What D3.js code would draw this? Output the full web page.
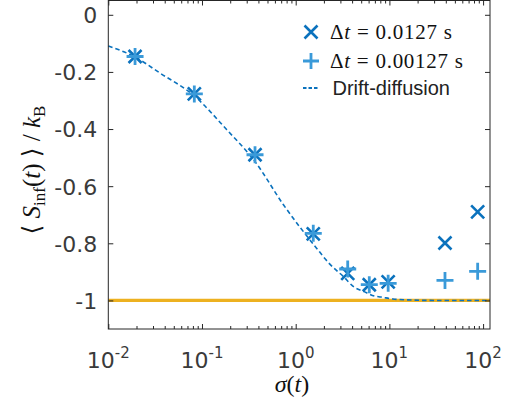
<!DOCTYPE html>
<html>
<head>
<meta charset="utf-8">
<script src="https://cdn.jsdelivr.net/npm/d3@7/dist/d3.min.js"></script>
<style>
  html, body { margin: 0; padding: 0; background: #fff; }
  svg { display: block; }
  .math { font-family: "Liberation Serif", "DejaVu Serif", serif; white-space: pre; }
</style>
</head>
<body>
<script>
// ---- data ----
const sigma = [0.0193, 0.0828, 0.368, 1.54, 3.59, 6.1, 9.7, 39.2, 87.5];
const dtLarge = [-0.146, -0.277, -0.49, -0.767, -0.905, -0.945, -0.935, -0.799, -0.69];   // Δt = 0.0127 s
const dtSmall = [-0.146, -0.277, -0.49, -0.765, -0.89, -0.945, -0.94, -0.93, -0.898];    // Δt = 0.00127 s
const ddSigma = [0.01, 0.0193, 0.0356, 0.082, 0.184, 0.37, 0.74, 1.67, 2.3, 3.22, 4.2, 5.27, 7.0, 8.1, 10.9, 15, 30, 118.5];
const ddValue = [-0.109, -0.148, -0.204, -0.283, -0.4025, -0.515, -0.665, -0.817, -0.872, -0.916, -0.953, -0.968, -0.985, -0.988, -0.995, -0.998, -1.0, -1.0];
const baseline = -1;
const xMajor = [0.01, 0.1, 1, 10, 100];
const xMajorExp = ["-2", "-1", "0", "1", "2"];
const yTicks = [0, -0.2, -0.4, -0.6, -0.8, -1];
const yTickLabels = ["0", "-0.2", "-0.4", "-0.6", "-0.8", "-1"];
const legendLabels = ["0.0127", "0.00127", "Drift-diffusion"];

// ---- layout ----
const W = 512, H = 411;
const L = 108.3, R = 490, T = 0.5, B = 329;
const colX = "#0b72bd", colP = "#3a9ad9", colDD = "#0b72bd", colBase = "#edb120";
const axisCol = "#262626", textCol = "#3a3a3a";

const svg = d3.select("body").append("svg").attr("width", W).attr("height", H);

const x = d3.scaleLog().domain([0.01, 118.5]).range([L, R]);
const y = d3.scaleLinear().domain([-1.1, 0.05]).range([B, T]);

// minor ticks
const xMinor = [];
for (let e = -2; e <= 2; e++) for (let m = 2; m <= 9; m++) { const v = m * Math.pow(10, e); if (v <= 118.5) xMinor.push(v); }

// ---- baseline and curve ----
svg.append("line")
  .attr("x1", x(0.01)).attr("x2", x(118.5))
  .attr("y1", y(baseline)).attr("y2", y(baseline))
  .attr("stroke", colBase).attr("stroke-width", 3.2);

const line = d3.line().x((d, i) => x(ddSigma[i])).y(d => y(d)).curve(d3.curveMonotoneX);
svg.append("path").attr("d", line(ddValue))
  .attr("fill", "none").attr("stroke", colDD).attr("stroke-width", 1.6)
  .attr("stroke-dasharray", "4.5,3");

// ---- markers ----
function crossPath(cx, cy, r) {
  return `M${cx - r},${cy - r}L${cx + r},${cy + r}M${cx - r},${cy + r}L${cx + r},${cy - r}`;
}
function plusPath(cx, cy, r) {
  return `M${cx - r},${cy}L${cx + r},${cy}M${cx},${cy - r}L${cx},${cy + r}`;
}
svg.append("g").selectAll("path").data(dtLarge).join("path")
  .attr("d", (d, i) => crossPath(x(sigma[i]), y(d), 6.5))
  .attr("stroke", colX).attr("stroke-width", 2.6).attr("fill", "none");
svg.append("g").selectAll("path").data(dtSmall).join("path")
  .attr("d", (d, i) => plusPath(x(sigma[i]), y(d), 8.5))
  .attr("stroke", colP).attr("stroke-width", 2.8).attr("fill", "none");

// ---- axes ----
const gAx = svg.append("g");
function styleAxis(g) {
  g.select(".domain").remove();
  g.selectAll(".tick line").attr("stroke", axisCol).attr("stroke-width", 1);
}
gAx.append("g").attr("transform", `translate(0,${B})`)
  .call(d3.axisBottom(x).tickValues(xMajor).tickSizeInner(-5).tickSizeOuter(0).tickFormat(""))
  .call(styleAxis);
gAx.append("g").attr("transform", `translate(0,${B})`)
  .call(d3.axisBottom(x).tickValues(xMinor).tickSizeInner(-3).tickSizeOuter(0).tickFormat(""))
  .call(styleAxis);
gAx.append("g").attr("transform", `translate(0,${T})`)
  .call(d3.axisTop(x).tickValues(xMajor).tickSizeInner(-5).tickSizeOuter(0).tickFormat(""))
  .call(styleAxis);
gAx.append("g").attr("transform", `translate(0,${T})`)
  .call(d3.axisTop(x).tickValues(xMinor).tickSizeInner(-3).tickSizeOuter(0).tickFormat(""))
  .call(styleAxis);
const yl = gAx.append("g").attr("transform", `translate(${L},0)`)
  .call(d3.axisLeft(y).tickValues(yTicks).tickSizeInner(-5).tickSizeOuter(0).tickPadding(11)
    .tickFormat((d, i) => yTickLabels[i]))
  .call(styleAxis);
yl.selectAll(".tick text")
  .attr("font-family", "'DejaVu Sans', sans-serif").attr("font-size", 22)
  .attr("fill", textCol).attr("dy", "0.36em");
gAx.append("g").attr("transform", `translate(${R},0)`)
  .call(d3.axisRight(y).tickValues(yTicks).tickSizeInner(-5).tickSizeOuter(0).tickFormat(""))
  .call(styleAxis);

// box
svg.append("rect").attr("x", L).attr("y", T).attr("width", R - L).attr("height", B - T)
  .attr("fill", "none").attr("stroke", axisCol).attr("stroke-width", 1);

// x tick labels with superscripts
const xl = svg.append("g").attr("font-family", "'DejaVu Sans', sans-serif").attr("fill", textCol);
xMajor.forEach((v, i) => {
  const t = xl.append("text").attr("x", x(v)).attr("y", 368).attr("text-anchor", "middle")
    .attr("font-size", 22);
  t.append("tspan").text("10");
  t.append("tspan").attr("font-size", 15).attr("dy", -10).text(xMajorExp[i]);
});

// x label
const xlab = svg.append("text").attr("class", "math").attr("x", 292).attr("y", 392)
  .attr("text-anchor", "middle").attr("font-size", 24).attr("fill", "#111");
xlab.append("tspan").attr("font-style", "italic").text("σ");
xlab.append("tspan").text("(");
xlab.append("tspan").attr("font-style", "italic").text("t");
xlab.append("tspan").text(")");

// y label
const ylab = svg.append("text").attr("class", "math")
  .attr("transform", "translate(40,170) rotate(-90)")
  .attr("text-anchor", "middle").attr("font-size", 25).attr("fill", "#111");
ylab.append("tspan").text("⟨ ");
ylab.append("tspan").attr("font-style", "italic").text("S");
ylab.append("tspan").attr("font-size", 17).attr("dy", 5).text("inf");
ylab.append("tspan").attr("dy", -5).text("(");
ylab.append("tspan").attr("font-style", "italic").text("t");
ylab.append("tspan").text(") ⟩ / ");
ylab.append("tspan").attr("font-style", "italic").text("k");
ylab.append("tspan").attr("font-size", 17).attr("dy", 5).text("B");

// ---- legend ----
const lg = svg.append("g");
lg.append("path").attr("d", crossPath(311, 32, 6.5)).attr("stroke", colX).attr("stroke-width", 2.6).attr("fill", "none");
lg.append("path").attr("d", plusPath(311, 61, 8)).attr("stroke", colP).attr("stroke-width", 2.8).attr("fill", "none");
lg.append("line").attr("x1", 303).attr("x2", 318).attr("y1", 88).attr("y2", 88)
  .attr("stroke", colDD).attr("stroke-width", 1.8).attr("stroke-dasharray", "3.5,2");

function mathLegend(yy, val, len) {
  const t = lg.append("text").attr("class", "math").attr("x", 330).attr("y", yy)
    .attr("font-size", 21).attr("fill", "#111")
    .attr("textLength", len).attr("lengthAdjust", "spacing");
  t.append("tspan").text("Δ");
  t.append("tspan").attr("font-style", "italic").text("t");
  t.append("tspan").text(" = " + val + " s");
}
mathLegend(39, legendLabels[0], 122);
mathLegend(68, legendLabels[1], 133);
lg.append("text").attr("x", 332.5).attr("y", 95)
  .attr("font-family", "'Liberation Sans', Arial, sans-serif").attr("font-size", 20)
  .attr("fill", "#222").text(legendLabels[2]);
</script>
</body>
</html>
